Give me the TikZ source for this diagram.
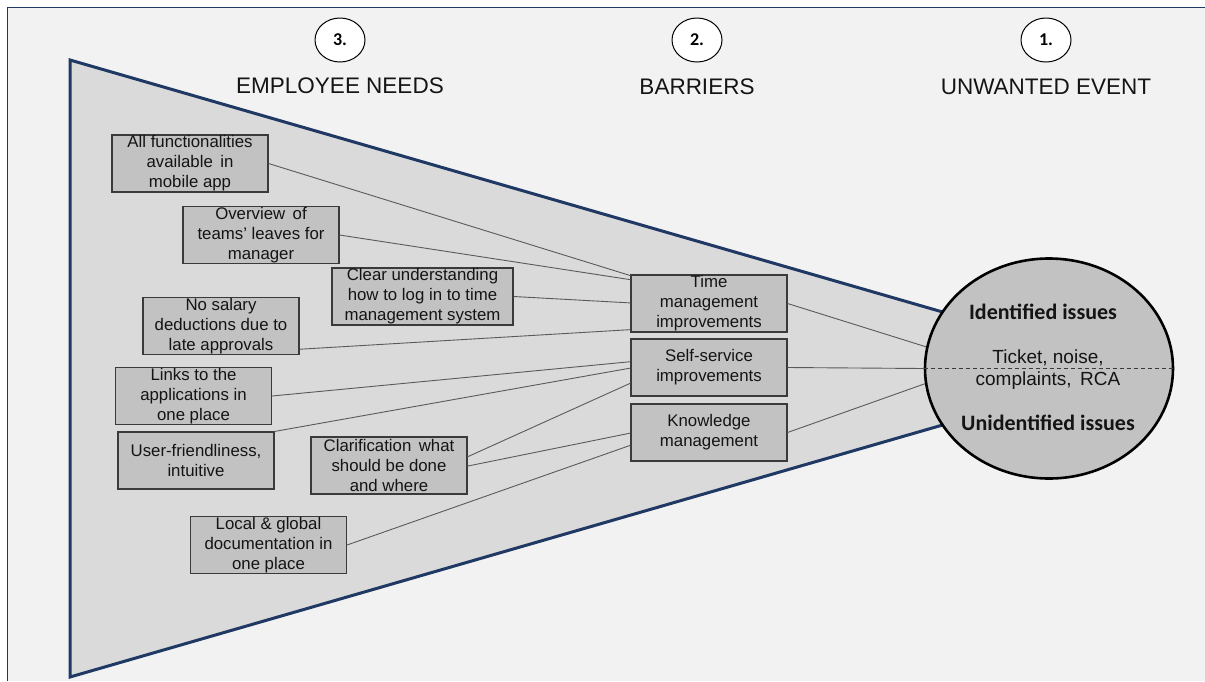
\documentclass[tikz,border=0pt]{standalone}
\usepackage{fontspec}
\setmainfont{Liberation Sans}
\newfontfamily\calibrifont{Carlito}
\usetikzlibrary{shapes.geometric,calc}
\definecolor{bgc}{HTML}{F2F2F2}
\definecolor{navy}{HTML}{1F3864}
\definecolor{trapc}{HTML}{DADADA}
\definecolor{boxc}{HTML}{C2C2C2}
\definecolor{boxline}{HTML}{3A3A3A}
\definecolor{conn}{HTML}{5A5A5A}
\definecolor{txt}{HTML}{141414}
\tikzset{
  needbox/.style={draw=boxline, line width=1.1pt, fill=boxc, minimum width=156pt,
    minimum height=57pt, inner sep=0pt, align=center, text=txt,
    font=\fontsize{16.8}{20}\selectfont},
  connline/.style={draw=conn, line width=0.9pt},
  numcirc/.style={ellipse, draw=black, line width=1pt, fill=white, minimum width=50pt,
    minimum height=44pt, inner sep=0pt, font=\calibrifont\bfseries\fontsize{18}{20}\selectfont},
  headtxt/.style={font=\fontsize{22.5}{26}\selectfont, text=txt, inner sep=0pt},
  boldlbl/.style={font=\calibrifont\bfseries\fontsize{22}{26}\selectfont, text=txt, inner sep=0pt},
  evtxt/.style={font=\fontsize{19}{23}\selectfont, text=txt, inner sep=0pt}
}
\begin{document}
\begin{tikzpicture}[x=1pt,y=-1pt]
\useasboundingbox (0,0) rectangle (1205,681);
\fill[white] (0,0) rectangle (1205,681);
\fill[bgc] (7,7) rectangle (1205,681);
\draw[navy, line width=1pt] (1205,7) -- (7,7) -- (7,681);
% funnel
\fill[trapc] (70,60) -- (942.6,312) -- (1049,368.5) -- (942.6,425) -- (70,677) -- cycle;
\draw[navy, line width=3pt, line join=miter] (942.6,312) -- (70,60) -- (70,677) -- (942.6,425);
% headers
\node[numcirc] (n3) at (340,40) {3.};
\node[numcirc] (n2) at (697,40) {2.};
\node[numcirc] (n1) at (1046,40) {1.};
\node[headtxt] (h3) at (340,85.5) {EMPLOYEE NEEDS};
\node[headtxt] (h2) at (697,86.5) {BARRIERS};
\node[headtxt] (h1) at (1046,86.5) {UNWANTED EVENT};
% event ellipse
\node[ellipse, draw=black, line width=2.6pt, fill=boxc, minimum width=248pt,
  minimum height=220pt, inner sep=0pt] (ev) at (1049,368.5) {};
\draw[boxline, line width=1pt, dash pattern=on 4pt off 3pt] (ev.west) -- (ev.east);
\node[boldlbl] (idl) at (1043,312) {Identified issues};
\node[evtxt] (tk1) at (1048,358) {Ticket, noise,};
\node[evtxt] (tk2) at (1048,381) {complaints,\, RCA};
\node[boldlbl] (uidl) at (1048,423) {Unidentified issues};
% barrier boxes
\node[needbox] (tm) at (709,303.5) {Time\\management\\improvements};
\node[needbox] (ss) at (709,367.5) {Self-service\\improvements};
\node[needbox] (km) at (709,432.5) {Knowledge\\management};
% need boxes
\node[needbox] (b1) at (190,163.5) {All functionalities\\available\, in\\mobile app};
\node[needbox] (b2) at (261,235) {Overview\, of\\teams’ leaves for\\manager};
\node[needbox, minimum width=181pt] (b3) at (422.5,296.5) {Clear understanding\\how to log in to time\\management system};
\node[needbox] (b4) at (221,326) {No salary\\deductions due to\\late approvals};
\node[needbox] (b5) at (193.5,396) {Links to the\\applications in\\one place};
\node[needbox] (b6) at (196,460.5) {User-friendliness,\\intuitive};
\node[needbox] (b7) at (389,465.5) {Clarification\, what\\should be done\\and where};
\node[needbox] (b8) at (268.5,545) {Local \& global\\documentation in\\one place};
% connectors needs -> barriers
\draw[connline] (b1.east) -- ($(tm.north west)!0.02!(tm.south west)$);
\draw[connline] (b2.east) -- ($(tm.north west)!0.09!(tm.south west)$);
\draw[connline] (b3.east) -- ($(tm.north west)!0.49!(tm.south west)$);
\draw[connline] ($(b4.north east)!0.9!(b4.south east)$) -- ($(tm.north west)!0.95!(tm.south west)$);
\draw[connline] (b5.east) -- ($(ss.north west)!0.40!(ss.south west)$);
\draw[connline] (b6.north east) -- ($(ss.north west)!0.51!(ss.south west)$);
\draw[connline] ($(b7.north east)!0.35!(b7.south east)$) -- ($(ss.north west)!0.77!(ss.south west)$);
\draw[connline] ($(b7.north east)!0.51!(b7.south east)$) -- ($(km.north west)!0.51!(km.south west)$);
\draw[connline] (b8.east) -- ($(km.north west)!0.72!(km.south west)$);
% connectors barriers -> event
\draw[connline] (tm.east) -- (ev.170);
\draw[connline] (ss.east) -- (ev.180);
\draw[connline] (km.east) -- (ev.187);
\end{tikzpicture}
\end{document}
